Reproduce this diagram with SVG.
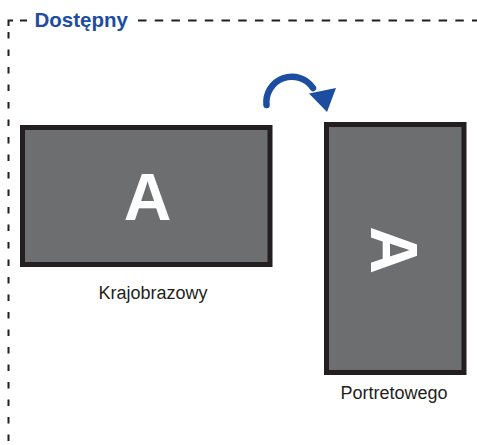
<svg xmlns="http://www.w3.org/2000/svg" width="477" height="445" viewBox="0 0 477 445">
<style>
.dash{stroke:#231f20;stroke-width:2;fill:none}
.screen{fill:#6d6e70;stroke:#231f20;stroke-width:5}
.big{font-family:"Liberation Sans",Arial,sans-serif;font-weight:bold;font-size:66px;fill:#ffffff;text-anchor:middle}
.lbl{font-family:"Liberation Sans",Arial,sans-serif;font-size:18px;fill:#231f20;text-anchor:middle}
.title{font-family:"Liberation Sans",Arial,sans-serif;font-weight:bold;font-size:20.5px;fill:#1c4da1}
</style>
<g id="frame">
<path class="dash" d="M13,20.5 H8.5 V26"/>
<line class="dash" x1="8.5" y1="32" x2="8.5" y2="445" stroke-dasharray="6.5,11"/>
<line class="dash" x1="20" y1="20.5" x2="27" y2="20.5"/>
<line class="dash" x1="138" y1="20.5" x2="477" y2="20.5" stroke-dasharray="8.5,8.2"/>
<text class="title" x="34.5" y="26.5">Dostępny</text>
</g>
<g id="landscape">
<rect class="screen" x="22.5" y="127.5" width="247.5" height="137"/>
<text class="big" x="147.5" y="220">A</text>
<text class="lbl" x="153" y="299">Krajobrazowy</text>
</g>
<g id="portrait">
<rect class="screen" x="326.5" y="124.5" width="137.5" height="248"/>
<text class="big" transform="translate(371,250) rotate(90)" x="0" y="0">A</text>
<text class="lbl" x="394" y="399">Portretowego</text>
</g>
<g id="connectors">
<path d="M266.5,105 A25.5,25.5 0 0 1 313,88" fill="none" stroke="#1c4da1" stroke-width="6.5" stroke-linecap="round"/>
<polygon points="309,93.5 336,88 327,112" fill="#1c4da1"/>
</g>
</svg>
